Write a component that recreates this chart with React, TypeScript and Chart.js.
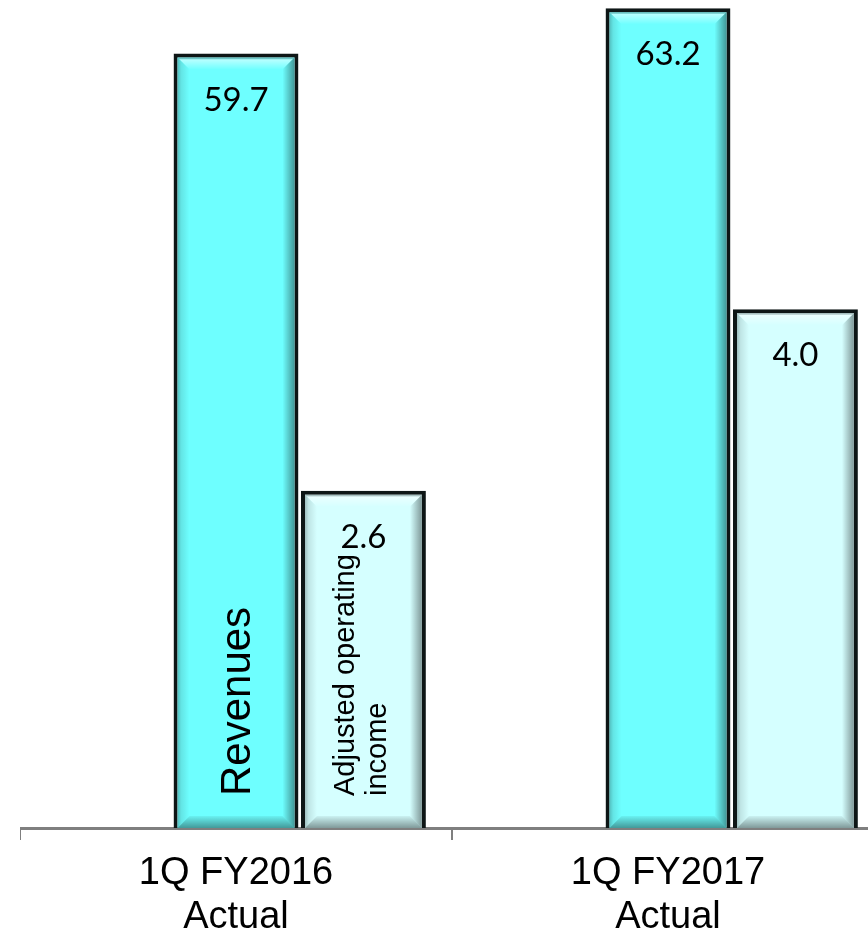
import React, { useEffect, useRef } from "react";
import { Chart, registerables } from "chart.js";

Chart.register(...registerables);

// Quarter categories (two-line tick labels)
const categories: string[][] = [
  ["1Q FY2016", "Actual"],
  ["1Q FY2017", "Actual"],
];

// Series values
const revenues: number[] = [59.7, 63.2];
const adjustedOperatingIncome: number[] = [2.6, 4.0];
const emptySlot: (number | null)[] = [null, null];

// Series names, written inside the first bar of each series
const revenueNameLines: string[] = ["Revenues"];
const incomeNameLines: string[] = ["Adjusted operating", "income"];

// Axis ranges (revenues and income use separate hidden scales)
const revenueAxisMax = 70;
const incomeAxisMax = 7;

const CANVAS_W = 864;
const CANVAS_H = 1038;
const X_AXIS_HEIGHT = 130;

type NameStyle = { lines: string[]; size: number; offsets: number[] };

const nameStyles: Record<number, NameStyle> = {
  1: { lines: revenueNameLines, size: 42, offsets: [13.5] },
  2: { lines: incomeNameLines, size: 29, offsets: [-9.5, 22.5] },
};

function poly(ctx: CanvasRenderingContext2D, pts: number[][], fill: CanvasGradient | string) {
  ctx.beginPath();
  ctx.moveTo(pts[0][0], pts[0][1]);
  for (let i = 1; i < pts.length; i++) ctx.lineTo(pts[i][0], pts[i][1]);
  ctx.closePath();
  ctx.fillStyle = fill;
  ctx.fill();
}

// Soft bevel over a bar's inner rectangle
function bevel(ctx: CanvasRenderingContext2D, L: number, T: number, R: number, B: number) {
  const s = 12;
  let g = ctx.createLinearGradient(0, T, 0, T + s);
  g.addColorStop(0, "rgba(0,0,0,0.3)");
  g.addColorStop(0.18, "rgba(255,255,255,0.5)");
  g.addColorStop(1, "rgba(255,255,255,0)");
  poly(ctx, [[L, T], [R, T], [R - s, T + s], [L + s, T + s]], g);

  g = ctx.createLinearGradient(L, 0, L + s, 0);
  g.addColorStop(0, "rgba(0,0,0,0.25)");
  g.addColorStop(0.3, "rgba(0,0,0,0.1)");
  g.addColorStop(1, "rgba(0,0,0,0)");
  poly(ctx, [[L, T], [L + s, T + s], [L + s, B - s], [L, B]], g);

  g = ctx.createLinearGradient(R - s, 0, R, 0);
  g.addColorStop(0, "rgba(0,0,0,0)");
  g.addColorStop(1, "rgba(0,0,0,0.4)");
  poly(ctx, [[R, T], [R - s, T + s], [R - s, B - s], [R, B]], g);

  g = ctx.createLinearGradient(0, B - s, 0, B);
  g.addColorStop(0, "rgba(0,0,0,0.05)");
  g.addColorStop(1, "rgba(0,0,0,0.4)");
  poly(ctx, [[L, B], [L + s, B - s], [R - s, B - s], [R, B]], g);
}

const barDecor = {
  id: "barDecor",
  afterDatasetsDraw(chart: any) {
    const ctx: CanvasRenderingContext2D = chart.ctx;
    chart.data.datasets.forEach((ds: any, di: number) => {
      const meta = chart.getDatasetMeta(di);
      meta.data.forEach((bar: any, i: number) => {
        const v = ds.data[i];
        if (v == null) return;
        const { x, y, base, width } = bar.getProps(["x", "y", "base", "width"], true);
        const bw = ds.borderWidth || 0;
        ctx.save();
        bevel(ctx, x - width / 2 + bw, y + bw, x + width / 2 - bw, base);

        // value label near the top of the bar
        ctx.fillStyle = "#000";
        ctx.font = "33px Lato, 'Open Sans', sans-serif";
        ctx.textAlign = "center";
        ctx.textBaseline = "alphabetic";
        ctx.fillText(Number(v).toFixed(1), x, y + 57);

        // series name, rotated, inside the first bar
        const ns = nameStyles[di];
        if (ns && i === 0) {
          ctx.translate(x, base - 32);
          ctx.rotate(-Math.PI / 2);
          ctx.font = `${ns.size}px 'Liberation Sans', Arial, sans-serif`;
          ctx.textAlign = "left";
          ns.lines.forEach((line, j) => ctx.fillText(line, 0, ns.offsets[j]));
        }
        ctx.restore();
      });
    });
  },
};

export default function App() {
  const canvasRef = useRef<HTMLCanvasElement | null>(null);

  useEffect(() => {
    if (!canvasRef.current) return;
    const chart = new Chart(canvasRef.current, {
      type: "bar",
      data: {
        labels: categories,
        datasets: [
          {
            label: "",
            data: emptySlot,
            yAxisID: "yRev",
            categoryPercentage: 0.885,
            barPercentage: 0.98,
          },
          {
            label: "Revenues",
            data: revenues,
            yAxisID: "yRev",
            backgroundColor: "#6effff",
            borderColor: "#0e1616",
            borderWidth: 4,
            categoryPercentage: 0.885,
            barPercentage: 0.98,
          },
          {
            label: "Adjusted operating income",
            data: adjustedOperatingIncome,
            yAxisID: "yAoi",
            backgroundColor: "#d5ffff",
            borderColor: "#0e1616",
            borderWidth: 4,
            categoryPercentage: 0.885,
            barPercentage: 0.98,
          },
        ],
      },
      options: {
        responsive: false,
        animation: false,
        devicePixelRatio: 1,
        layout: { padding: 0 },
        plugins: {
          legend: { display: false },
          tooltip: { enabled: false },
        },
        scales: {
          x: {
            z: 1,
            offset: true,
            afterFit: (scale: any) => {
              scale.height = X_AXIS_HEIGHT;
            },
            grid: {
              offset: true,
              drawOnChartArea: false,
              drawTicks: true,
              tickLength: 12,
              color: "#7f7f7f",
              lineWidth: 2,
            },
            border: { display: true, color: "#7f7f7f", width: 3 },
            ticks: {
              color: "#000",
              padding: 12,
              maxRotation: 0,
              font: { family: "'Liberation Sans', Arial, sans-serif", size: 38, lineHeight: 1.15 },
            },
          },
          yRev: { display: false, min: 0, max: revenueAxisMax },
          yAoi: { display: false, min: 0, max: incomeAxisMax },
        },
      },
      plugins: [barDecor],
    } as any);
    return () => chart.destroy();
  }, []);

  return (
    <div
      style={{
        position: "fixed",
        left: 0,
        top: 0,
        width: 868,
        height: 931,
        overflow: "hidden",
        background: "#fff",
      }}
    >
      <canvas
        ref={canvasRef}
        width={CANVAS_W}
        height={CANVAS_H}
        style={{ position: "absolute", left: 20, top: -80, width: CANVAS_W, height: CANVAS_H }}
      />
    </div>
  );
}
